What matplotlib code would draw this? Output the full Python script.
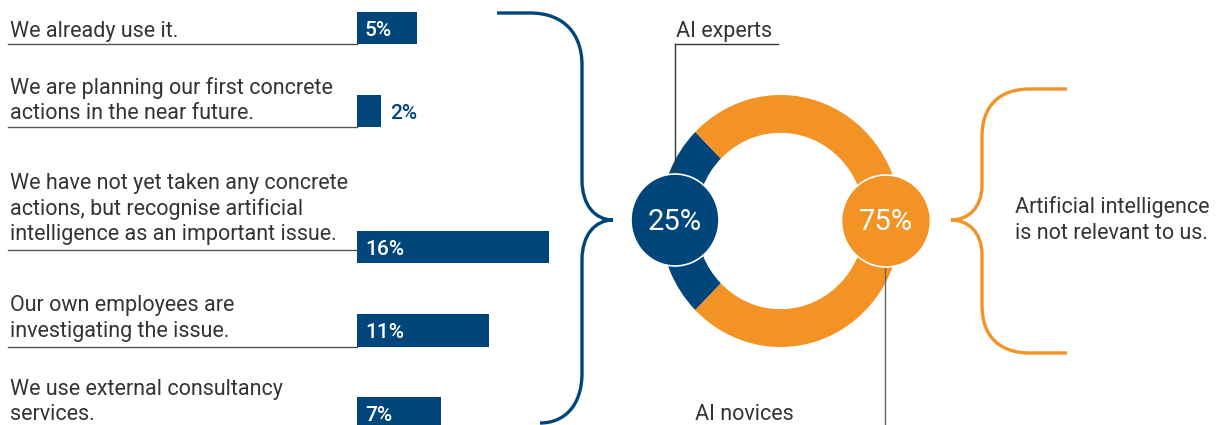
import numpy as np
import matplotlib
matplotlib.use("Agg")
import matplotlib.pyplot as plt
from matplotlib.patches import Ellipse, PathPatch
from matplotlib.path import Path

# data
answers = ["We already use it.",
           "We are planning our first concrete\nactions in the near future.",
           "We have not yet taken any concrete\nactions, but recognise artificial\nintelligence as an important issue.",
           "Our own employees are\ninvestigating the issue.",
           "We use external consultancy\nservices."]
shares = [5, 2, 16, 11, 7]
groups = ["AI experts", "AI novices"]
group_shares = [25, 75]
novice_note = "Artificial intelligence\nis not relevant to us."

blue = "#00467A"
orange = "#F39325"
grey = "#333333"

plt.rcParams['font.family'] = ['Roboto', 'DejaVu Sans']

W, H = 1219, 425
fig = plt.figure(figsize=(W / 100, H / 100), dpi=100)

# donut in its own axes (pixel box of the ring)
cx, cy, rx, ry = 780.5, 221, 120.5, 126
axd = fig.add_axes([(cx - rx) / W, 1 - (cy + ry) / H, 2 * rx / W, 2 * ry / H], zorder=0)
axd.pie(group_shares, colors=[blue, orange], startangle=135, counterclock=True,
        radius=1, wedgeprops=dict(width=0.30, linewidth=0))
axd.set_aspect('auto')
axd.set_xlim(-1, 1)
axd.set_ylim(-1, 1)
axd.axis('off')

# main axes in pixel coordinates
ax = fig.add_axes([0, 0, 1, 1], zorder=1)
ax.patch.set_alpha(0)
ax.set_xlim(0, W)
ax.set_ylim(H, 0)
ax.axis('off')

fs = 15.5

# bar chart rows
x0 = 357
px_per = 12
bar_y = [28, 111, 247, 330.5, 413]
last_base = [37, 119, 240, 337, 420]
rule_y = [43.5, 127, 250, 346.5, 429]
ax.barh(bar_y, [s * px_per for s in shares], left=x0, height=32.5, color=blue)
for i, (lab, s) in enumerate(zip(answers, shares)):
    lines = lab.split("\n")
    for k, ln in enumerate(lines):
        yb = last_base[i] - (len(lines) - 1 - k) * 25.5
        ax.text(10, yb, ln, fontsize=fs, color=grey, va='baseline', ha='left')
    ax.plot([8, x0], [rule_y[i], rule_y[i]], color="#555555", lw=1)
    w = s * px_per
    if w > 40:
        ax.text(x0 + 8, bar_y[i] + 8, f"{s}%", fontsize=15, color="white",
                va='baseline', ha='left', fontweight='medium')
    else:
        ax.text(x0 + w + 9, bar_y[i] + 8, f"{s}%", fontsize=15, color=blue,
                va='baseline', ha='left', fontweight='medium')

# blue brace
verts = [(497, 13), (530, 13),
         (565, 13), (582, 35), (582, 65),
         (582, 180),
         (582, 205), (595, 220), (613, 220),
         (595, 220), (582, 235), (582, 260),
         (582, 373),
         (582, 405), (565, 423), (540, 423)]
codes = [Path.MOVETO, Path.LINETO,
         Path.CURVE4, Path.CURVE4, Path.CURVE4,
         Path.LINETO,
         Path.CURVE4, Path.CURVE4, Path.CURVE4,
         Path.CURVE4, Path.CURVE4, Path.CURVE4,
         Path.LINETO,
         Path.CURVE4, Path.CURVE4, Path.CURVE4]
ax.add_patch(PathPatch(Path(verts, codes), fill=False, edgecolor=blue, lw=2.4))

# orange brace
verts = [(1067, 89), (1030, 89),
         (1000, 89), (982, 105), (982, 137),
         (982, 185),
         (982, 208), (968, 220), (951, 220),
         (968, 220), (982, 232), (982, 255),
         (982, 305),
         (982, 337), (1000, 353), (1030, 353),
         (1067, 353)]
codes = [Path.MOVETO, Path.LINETO,
         Path.CURVE4, Path.CURVE4, Path.CURVE4,
         Path.LINETO,
         Path.CURVE4, Path.CURVE4, Path.CURVE4,
         Path.CURVE4, Path.CURVE4, Path.CURVE4,
         Path.LINETO,
         Path.CURVE4, Path.CURVE4, Path.CURVE4,
         Path.LINETO]
ax.add_patch(PathPatch(Path(verts, codes), fill=False, edgecolor=orange, lw=2.4))

# leader lines and group labels
ax.plot([675, 778], [44, 44], color=grey, lw=1)
ax.plot([675, 675], [44, 176], color=grey, lw=1)
ax.text(676, 37, groups[0], fontsize=fs, color=grey, va='baseline', ha='left')
ax.plot([885, 885], [267, 425], color="#666666", lw=1)
ax.text(695, 420, groups[1], fontsize=fs, color=grey, va='baseline', ha='left')

# percentage badges
ax.add_patch(Ellipse((675, 220), 88, 92, facecolor=blue, edgecolor="white", lw=1.2, zorder=3))
ax.add_patch(Ellipse((886, 221), 89, 92, facecolor=orange, edgecolor="white", lw=1.2, zorder=3))
ax.text(675, 222, f"{group_shares[0]}%", fontsize=21, color="white", ha='center', va='center', zorder=4)
ax.text(886, 222, f"{group_shares[1]}%", fontsize=21, color="white", ha='center', va='center', zorder=4)

# note next to orange brace
nl = novice_note.split("\n")
ax.text(1015, 213, nl[0], fontsize=fs, color=grey, va='baseline', ha='left')
ax.text(1015, 239, nl[1], fontsize=fs, color=grey, va='baseline', ha='left')

fig.savefig("out.png", dpi=100)
